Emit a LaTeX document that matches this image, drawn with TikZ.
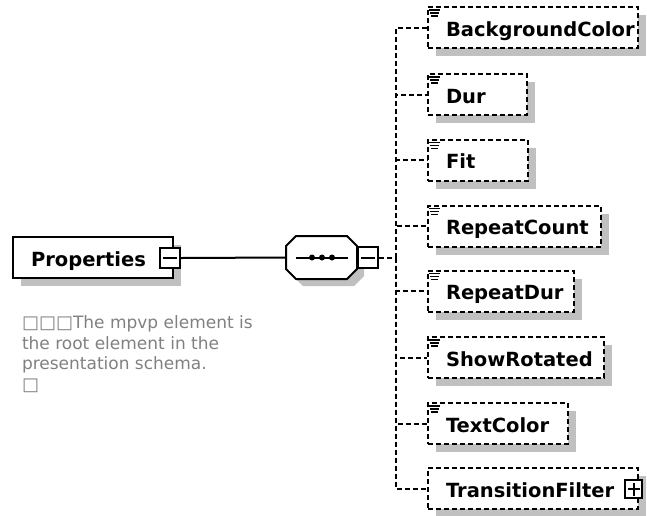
\documentclass[tikz,border=0pt]{standalone}
\usepackage{fontspec}
\setmainfont{DejaVu Sans}
\usetikzlibrary{shadows,calc}
\definecolor{shadowgray}{RGB}{192,192,192}
\definecolor{notegray}{RGB}{128,128,128}
\newcommand\elemfont{\fontsize{19.5}{22}\selectfont\bfseries}
\newcommand\notefont{\fontsize{17}{20.5}\selectfont}
\newcommand\sqglyph{{\fontsize{18}{20.5}\selectfont □}}
\tikzset{
  x=1pt, y=-1pt,
  boxshadow/.style={drop shadow={shadow xshift=8pt, shadow yshift=-8pt, fill=shadowgray, opacity=1}},
  elembox/.style={draw, fill=white, rectangle, anchor=west, minimum height=41pt,
    inner xsep=18pt, inner ysep=0pt, align=left, text height=20pt, text depth=3pt,
    font=\elemfont, boxshadow},
  optbox/.style={elembox, dash pattern=on 5pt off 3pt},
  dashline/.style={dash pattern=on 5pt off 3pt},
  togglebox/.style={draw, fill=white, rectangle, inner sep=0pt},
  pipline/.style={line width=1.4pt}
}
% the small "simple content" mark at a box corner
\newcommand\contentmark[1]{%
  \draw[pipline] ($(#1.north west)+(2,4)$) -- ++(11,0);
  \draw[pipline] ($(#1.north west)+(3,7)$) -- ++(9,0);
  \draw[pipline] ($(#1.north west)+(4,10)$) -- ++(7,0);
}
\begin{document}
\begin{tikzpicture}[line width=2pt]
\useasboundingbox (0,0) rectangle (647,515);

% root element
\node[elembox, text width=124pt, minimum width=160pt, inner xsep=16pt] (props) at (12,257.5) {Properties};
\node[togglebox, minimum width=20pt, minimum height=20pt] (propminus) at (170,258) {};
\draw ([xshift=4pt]propminus.west) -- ([xshift=-4pt]propminus.east);

% sequence compositor
\node[minimum width=69pt, minimum height=41pt, inner sep=0pt] (seq) at (321.5,257.5) {};
\fill[shadowgray] ($(seq.north west)+(17,7)$) -- ($(seq.north east)+(-3,7)$) -- ($(seq.north east)+(7,17)$)
  -- ($(seq.south east)+(7,-3)$) -- ($(seq.south east)+(-3,7)$) -- ($(seq.south west)+(17,7)$)
  -- ($(seq.south west)+(7,-3)$) -- ($(seq.north west)+(7,17)$) -- cycle;
\draw[fill=white] ($(seq.north west)+(10,0)$) -- ($(seq.north east)+(-10,0)$) -- ($(seq.north east)+(0,10)$)
  -- ($(seq.south east)+(0,-10)$) -- ($(seq.south east)+(-10,0)$) -- ($(seq.south west)+(10,0)$)
  -- ($(seq.south west)+(0,-10)$) -- ($(seq.north west)+(0,10)$) -- cycle;
\draw ($(seq.west)+(10,0)$) -- ($(seq.east)+(-9,0)$);
\foreach \dx in {-9.5,0.5,10.5} {
  \fill ($(seq.center)+(\dx,0)$) circle (3pt);
}
\node[togglebox, minimum width=20pt, minimum height=21pt, anchor=west] (seqminus) at (seq.east) {};
\draw ([xshift=4pt]seqminus.west) -- ([xshift=-4pt]seqminus.east);

\draw (propminus.east) -- (seq.west);

% child elements
\node[optbox, text width=174pt, minimum width=210pt] (bg)  at (427,27.5)  {BackgroundColor};
\node[optbox, text width=63pt,  minimum width=99pt]  (dur) at (427,94.5)  {Dur};
\node[optbox, text width=64pt,  minimum width=100pt] (fit) at (427,160)   {Fit};
\node[optbox, text width=137pt, minimum width=173pt] (rc)  at (427,226)   {RepeatCount};
\node[optbox, text width=110pt, minimum width=146pt] (rd)  at (427,291)   {RepeatDur};
\node[optbox, text width=140pt, minimum width=176pt] (sr)  at (427,357.5) {ShowRotated};
\node[optbox, text width=104pt, minimum width=140pt] (tc)  at (427,423.5) {TextColor};
\node[optbox, text width=174pt, minimum width=210pt] (tf)  at (427,488.5) {TransitionFilter};
\node[togglebox, minimum width=17pt, minimum height=18pt] (tfplus) at (633.5,489) {};
\draw ([xshift=3.5pt]tfplus.west) -- ([xshift=-3.5pt]tfplus.east);
\draw ([yshift=-3.5pt]tfplus.north) -- ([yshift=3.5pt]tfplus.south);

\foreach \n in {bg,dur,fit,rc,rd,sr,tc} {
  \contentmark{\n}
}

% connectors
\coordinate (bus) at (396,257.5);
\draw[dashline] (seqminus.east) -- (bus);
\foreach \n in {bg,dur,fit,rc,rd,sr,tc,tf} {
  \draw[dashline] (bus) |- (\n.west);
}

% annotation
\node[anchor=north west, inner sep=0pt, align=left, text=notegray, font=\notefont] (note) at (21,315)
  {\sqglyph\sqglyph\sqglyph The mpvp element is\\the root element in the\\presentation schema.\\\sqglyph};
\end{tikzpicture}
\end{document}
